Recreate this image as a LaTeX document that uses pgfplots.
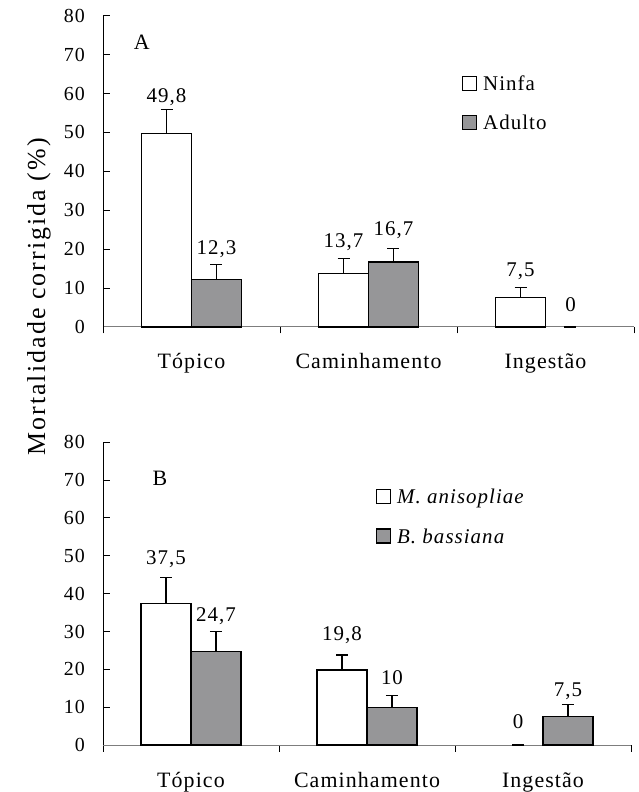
\documentclass[border=0pt]{standalone}
\usepackage{fontspec}
\setmainfont{Liberation Serif}[LetterSpace=5]
\usepackage{pgfplots}
\usepackage{pgfplotstable}
\pgfplotsset{compat=1.18}
\definecolor{bargray}{RGB}{150,150,152}
\definecolor{axgray}{RGB}{125,125,125}

% ---------- panel A data ----------
\pgfplotstableread{
x y
0 49.8
1 13.7
2 7.5
}\ninfa
\pgfplotstableread{
x y
0 12.3
1 16.7
}\adulto
\pgfplotstableread{
x y e
-0.1412 49.8 6.0
0.1412 12.3 3.8
0.8588 13.7 3.9
1.1412 16.7 3.5
1.8588 7.5 2.7
2.1412 0 0
}\toperr
\pgfplotstableread{
x y lab
-0.1412 57.6 49,8
0.1412 18.7 12,3
0.8588 20.5 13,7
1.1412 23.6 16,7
1.8588 12.9 7,5
2.1412 3.9 0
}\toplabels
% ---------- panel B data ----------
\pgfplotstableread{
x y
0 37.5
1 19.8
}\metar
\pgfplotstableread{
x y
0 24.7
1 10.0
2 7.5
}\beauv
\pgfplotstableread{
x y e
-0.142 37.5 6.8
0.142 24.7 5.2
0.858 19.8 4.0
1.142 10.0 3.0
1.858 0 0
2.142 7.5 3.3
}\boterr
\pgfplotstableread{
x y lab
-0.142 47.6 37,5
0.142 32.6 24,7
0.858 27.6 19,8
1.142 15.9 10
1.858 4.4 0
2.142 12.8 7,5
}\botlabels

\pgfplotsset{
 panel/.style={
  scale only axis,
  xmin=-0.5, xmax=2.5, ymin=0, ymax=80,
  axis x line=bottom, axis y line=left,
  axis line style={-},
  x axis line style={axgray, line width=1bp},
  y axis line style={black, line width=1bp},
  ytick={0,10,...,80},
  xtick={0,1,2},
  xticklabels={Tópico, Caminhamento, Ingestão},
  major x tick style={draw=none},
  minor xtick={-0.5,0.5,1.5,2.5},
  minor x tick style={black, line width=1bp, yshift=-6.5bp},
  minor tick length=6.5bp,
  major tick length=6.5bp,
  tick align=inside,
  ytick style={black, line width=1bp},
  /pgf/number format/assume math mode=true,
  yticklabel style={font=\fontsize{20}{20}\selectfont, anchor=east, inner sep=0pt, xshift=-18bp},
  xticklabel style={font=\fontsize{22}{22}\selectfont, anchor=base, inner sep=0pt, yshift=-42bp},
  clip=false,
  legend image code/.code={\draw[##1, line width=1.2bp] (0bp,-7bp) rectangle (14bp,7bp);},
  legend style={draw=none, fill=none, inner sep=0pt, outer sep=0pt, row sep=24bp, column sep=6bp,
    nodes={inner sep=0pt, text height=14bp, text depth=0bp, anchor=west},
    font=\fontsize{21}{21}\selectfont, legend cell align=left},
  every node near coord/.append style={anchor=base, inner sep=0pt, font=\fontsize{21}{21}\selectfont, text=black},
 },
 mybar/.style={ybar, bar width=50bp, bar shift=#1, draw=black, line width=1.2bp},
 labelplot/.style={draw=none, mark=none, forget plot, nodes near coords, point meta=explicit symbolic},
 errplot/.style={draw=none, mark=none, forget plot,
   error bars/y dir=plus, error bars/y explicit,
   error bars/error bar style={draw=black, line width=1.2bp},
   error bars/error mark options={draw=black, line width=1.2bp, mark size=6bp, rotate=90}},
}

\begin{document}
\begin{tikzpicture}
\path[use as bounding box] (0,0) rectangle (639bp,792bp);

% ---------- panel A ----------
\begin{axis}[panel, at={(103bp,465bp)}, anchor=south west, width=531bp, height=311.3bp,
  legend style={at={(rel axis cs:0.676,0.806)}, anchor=north west}]
\addplot[mybar=-25bp, fill=white] table[x=x, y=y] {\ninfa};
\addlegendentry{Ninfa}
\addplot[mybar=25bp, fill=bargray] table[x=x, y=y] {\adulto};
\addlegendentry{Adulto}
\addplot[errplot] table[x=x, y=y, y error=e] {\toperr};
\addplot[labelplot] table[x=x, y=y, meta=lab] {\toplabels};
\node[anchor=base, font=\fontsize{22}{22}\selectfont] at (axis cs:-0.281,71.2) {A};
\end{axis}

% ---------- panel B ----------
\begin{axis}[panel, at={(103bp,47bp)}, anchor=south west, width=528bp, height=302.7bp,
  legend style={at={(rel axis cs:0.517,0.845)}, anchor=north west}]
\addplot[mybar=-25bp, fill=white] table[x=x, y=y] {\metar};
\addlegendentry{\textit{M. anisopliae}}
\addplot[mybar=25bp, fill=bargray] table[x=x, y=y] {\beauv};
\addlegendentry{\textit{B. bassiana}}
\addplot[errplot] table[x=x, y=y, y error=e] {\boterr};
\addplot[labelplot] table[x=x, y=y, meta=lab] {\botlabels};
\node[anchor=base, font=\fontsize{22}{22}\selectfont] at (axis cs:-0.176,68.7) {B};
\end{axis}

\node[rotate=90, anchor=base, font=\fontsize{26}{26}\selectfont\addfontfeatures{LetterSpace=8}] at (45bp,495bp) {Mortalidade corrigida (\%)};
\end{tikzpicture}
\end{document}
